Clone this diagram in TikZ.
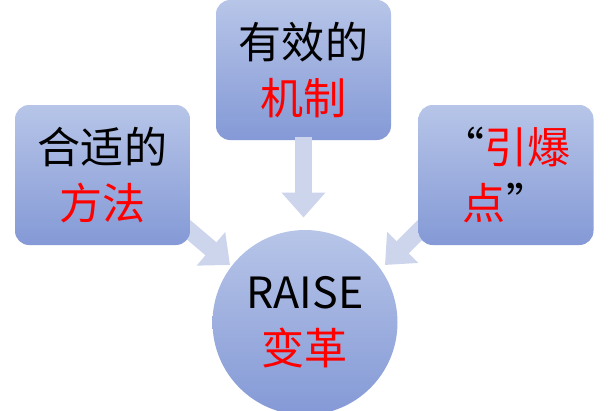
\documentclass[tikz,border=0pt]{standalone}
\usepackage{fontspec}
\newfontfamily\cjk{Noto Sans CJK SC}
\usetikzlibrary{arrows.meta}
\definecolor{bt}{HTML}{B7C5E8}
\definecolor{bb}{HTML}{8499D6}
\definecolor{ar}{HTML}{CDD5EC}
\tikzset{
 box/.style={rounded corners=8pt,top color=bt,bottom color=bb,minimum width=3.5cm,minimum height=2.8cm,align=center,font=\cjk\fontsize{24.5}{32}\selectfont},
 circ/.style={circle,top color=bt,bottom color=bb,minimum size=3.7cm,align=center,font=\cjk\fontsize{24.5}{32}\selectfont},
 fat/.style={ar,line width=0.34cm,-{Triangle[width=0.85cm,length=0.5cm]}}
}
\begin{document}
\begin{tikzpicture}[x=1cm,y=-1cm]
\useasboundingbox (0,0) rectangle (12.2,8.22);
\draw[fat] (3.6,4.45) -- (4.6,5.3);
\draw[fat] (8.55,4.45) -- (7.7,5.3);
\node[box] (l) at (2.05,3.5) {合适的\\\textcolor{red}{方法}};
\node[box] (t) at (6.07,1.4) {有效的\\\textcolor{red}{机制}};
\node[box] (r) at (10.12,3.5) {“\textcolor{red}{引爆}\\\textcolor{red}{点}”};
\node[circ] (c) at (6.1,6.45) {RAISE\\\textcolor{red}{变革}};
\draw[fat,shorten <=-2pt] (t.south) -- (6.07,4.35);
\end{tikzpicture}
\end{document}
